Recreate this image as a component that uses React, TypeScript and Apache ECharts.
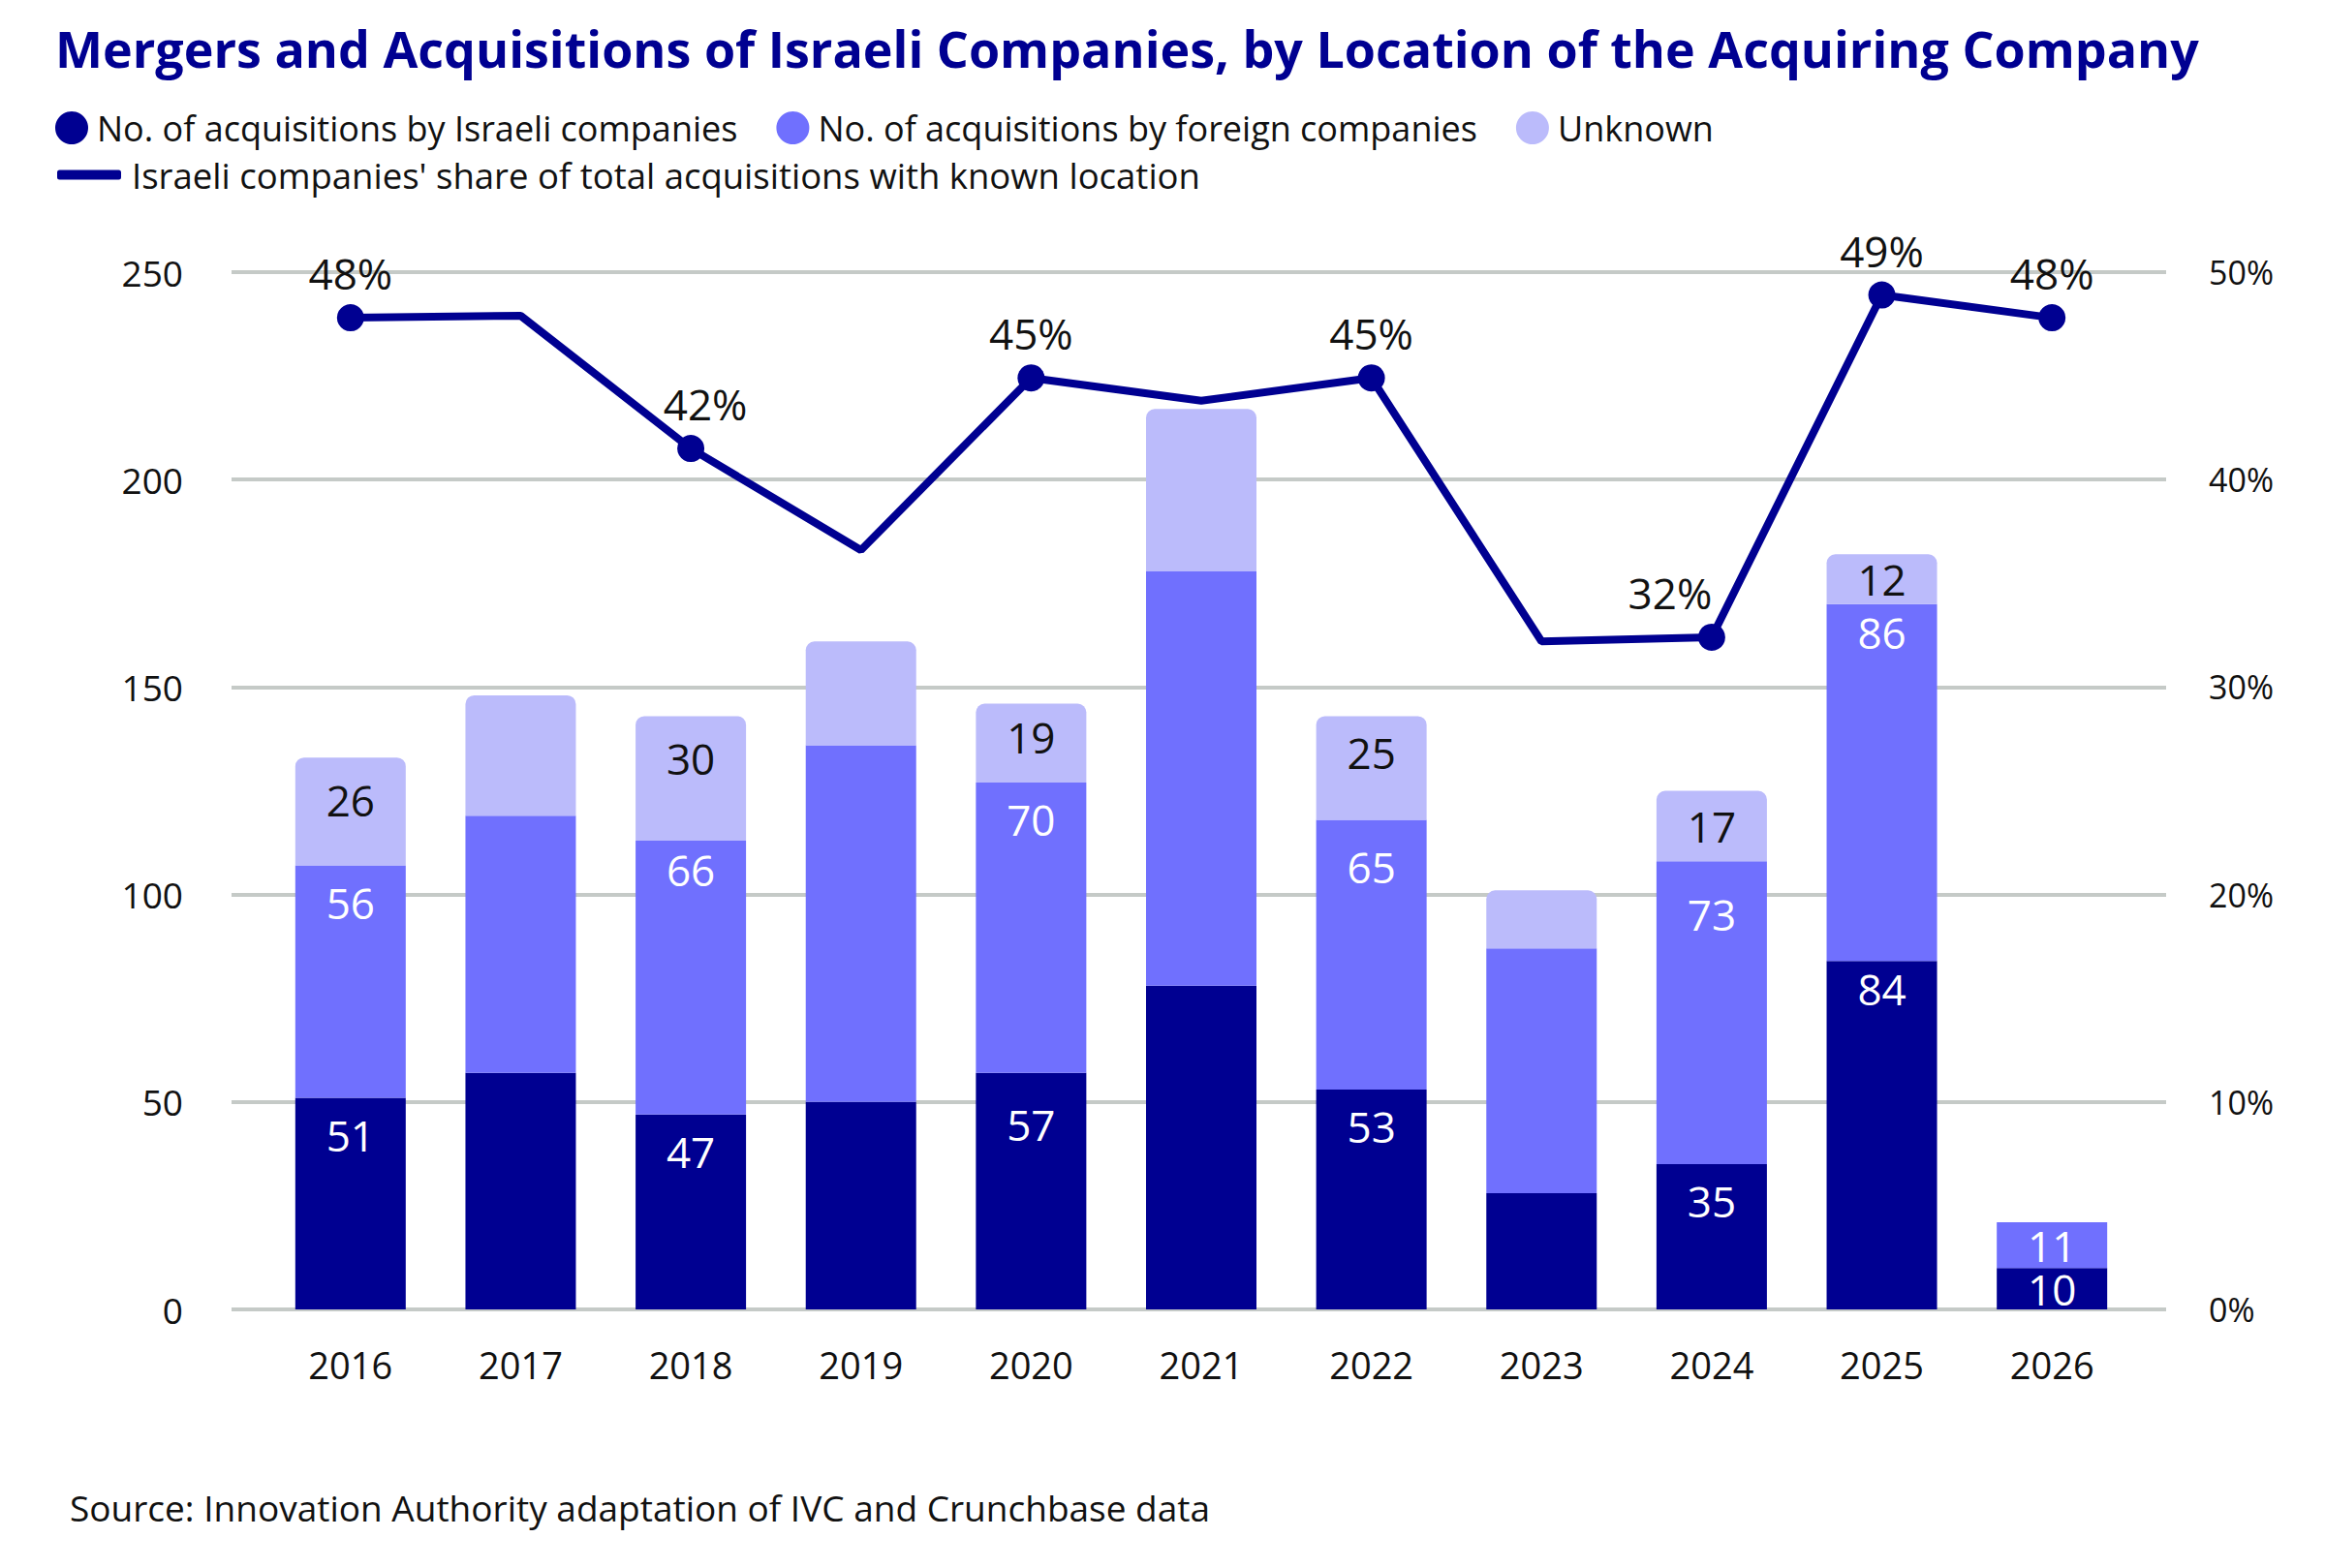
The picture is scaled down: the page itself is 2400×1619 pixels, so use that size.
import React, { useEffect, useRef } from "react";
import * as echarts from "echarts";

// Acquisitions of Israeli companies, split by where the buyer is based
const years = ["2016", "2017", "2018", "2019", "2020", "2021", "2022", "2023", "2024", "2025", "2026"];
const israeliBuyers = [51, 57, 47, 50, 57, 78, 53, 28, 35, 84, 10];
const foreignBuyers = [56, 62, 66, 86, 70, 100, 65, 59, 73, 86, 11];
const unknownBuyers = [26, 29, 30, 25, 19, 39, 25, 14, 17, 12, 0];
// Israeli buyers as a share (%) of acquisitions whose buyer location is known
const israeliShare = [47.8, 47.9, 41.5, 36.6, 44.9, 43.8, 44.9, 32.2, 32.4, 48.9, 47.8];
// Years whose values are written on the chart
const labelledYears = ["2016", "2018", "2020", "2022", "2024", "2025", "2026"];

const leftTicks = [0, 50, 100, 150, 200, 250];
const rightTicks = [0, 10, 20, 30, 40, 50];

const NAME_IL = "No. of acquisitions by Israeli companies";
const NAME_FOREIGN = "No. of acquisitions by foreign companies";
const NAME_UNKNOWN = "Unknown";
const NAME_SHARE = "Israeli companies' share of total acquisitions with known location";

const FONT = "'Open Sans', 'Noto Sans', sans-serif";
const NAVY = "#000091";
const VIOLET = "#7070fe";
const LAVENDER = "#bbbbfb";
const INK = "#111111";
const GRID = "#c5cac7";

// Label placement tweaks for the share line (pixels)
const shareLabelOffset: Record<string, [number, number]> = {
  "2018": [15, 0],
  "2024": [-43, 0],
};

// Vertical nudges (pixels) for individual bar labels
const israeliLabelShift: Record<string, number> = { "2020": 15 };
const foreignLabelShift: Record<string, number> = { "2018": -8, "2022": 11, "2024": 17, "2025": -9 };
const unknownLabelShift: Record<string, number> = { "2016": 6, "2018": 6, "2020": -6 };
const israeliLabelShift2025: Record<string, number> = { "2025": -9 };

function barData(values: number[], textColor: string, shift: Record<string, number>) {
  return values.map((v, i) => {
    const shown = labelledYears.includes(years[i]) && v > 0;
    return {
      value: v,
      label: {
        show: shown,
        position: v < 20 ? "inside" : "insideTop",
        distance: 16,
        color: textColor,
        offset: [0, shift[years[i]] || 0],
      },
    };
  });
}

export default function App() {
  const ref = useRef<HTMLDivElement>(null);

  useEffect(() => {
    if (!ref.current) return;
    const chart = echarts.init(ref.current, null, { renderer: "svg" });

    const barLabel = {
      fontSize: 44,
      fontFamily: FONT,
      lineHeight: 44,
    };

    const shareData = israeliShare.map((v, i) => {
      const shown = labelledYears.includes(years[i]);
      return {
        value: v,
        symbol: shown ? "circle" : "none",
        symbolSize: shown ? 28 : 0,
        label: {
          show: shown,
          offset: shareLabelOffset[years[i]] || [0, 0],
        },
      };
    });

    chart.setOption({
      animation: false,
      backgroundColor: "#ffffff",
      textStyle: { fontFamily: FONT },
      title: {
        text: "Mergers and Acquisitions of Israeli Companies, by Location of the Acquiring Company",
        left: 52,
        top: 18,
        textStyle: {
          fontFamily: FONT,
          fontSize: 52,
          fontWeight: "bold",
          color: NAVY,
        },
      },
      legend: [
        {
          data: [NAME_IL, NAME_FOREIGN, NAME_UNKNOWN],
          left: 52,
          top: 109,
          icon: "circle",
          itemWidth: 34,
          itemHeight: 34,
          itemGap: 40,
          selectedMode: false,
          textStyle: {
            fontFamily: FONT,
            fontSize: 36,
            color: INK,
            padding: [0, 0, 0, 4],
          },
        },
        {
          data: [NAME_SHARE],
          left: 54,
          top: 157,
          icon: "roundRect",
          itemWidth: 66,
          itemHeight: 10,
          selectedMode: false,
          textStyle: {
            fontFamily: FONT,
            fontSize: 36.5,
            color: INK,
            padding: [0, 0, 0, 6],
          },
        },
      ],
      graphic: [
        {
          type: "text",
          left: 72,
          top: 1538,
          style: {
            text: "Source: Innovation Authority adaptation of IVC and Crunchbase data",
            fontFamily: FONT,
            fontSize: 37,
            fill: INK,
          },
        },
      ],
      grid: [
        { left: 274, width: 1932, top: 281, height: 1071 },
        { left: 239, width: 1997, top: 281, height: 1071 },
      ],
      xAxis: [
        {
          gridIndex: 0,
          type: "category",
          data: years,
          axisLine: { show: false },
          axisTick: { show: false },
          axisLabel: {
            fontFamily: FONT,
            fontSize: 38,
            color: INK,
            margin: 38,
          },
        },
        { gridIndex: 1, type: "value", min: 0, max: 1, show: false },
      ],
      yAxis: [
        { gridIndex: 0, type: "value", min: leftTicks[0], max: leftTicks[leftTicks.length - 1], interval: 50, show: false },
        { gridIndex: 0, type: "value", min: rightTicks[0], max: rightTicks[rightTicks.length - 1], interval: 10, show: false, position: "right" },
        {
          gridIndex: 1,
          type: "value",
          min: leftTicks[0],
          max: leftTicks[leftTicks.length - 1],
          interval: 50,
          axisLine: { show: false },
          axisTick: { show: false },
          axisLabel: {
            fontFamily: FONT,
            fontSize: 37,
            color: INK,
            margin: 50,
            padding: [0, 0, 16, 0],
          },
          splitLine: { show: true, lineStyle: { color: GRID, width: 4 } },
        },
        {
          gridIndex: 1,
          type: "value",
          position: "right",
          min: rightTicks[0],
          max: rightTicks[rightTicks.length - 1],
          interval: 10,
          axisLine: { show: false },
          axisTick: { show: false },
          splitLine: { show: false },
          axisLabel: {
            fontFamily: FONT,
            fontSize: 34,
            color: INK,
            margin: 44,
            padding: [0, 0, 16, 0],
            formatter: "{value}%",
          },
        },
      ],
      series: [
        {
          name: NAME_IL,
          type: "bar",
          stack: "deals",
          xAxisIndex: 0,
          yAxisIndex: 0,
          barWidth: 114,
          itemStyle: { color: NAVY },
          label: { ...barLabel },
          data: barData(israeliBuyers, "#ffffff", { ...israeliLabelShift, ...israeliLabelShift2025 }),
        },
        {
          name: NAME_FOREIGN,
          type: "bar",
          stack: "deals",
          xAxisIndex: 0,
          yAxisIndex: 0,
          barWidth: 114,
          itemStyle: { color: VIOLET },
          label: { ...barLabel },
          data: barData(foreignBuyers, "#ffffff", foreignLabelShift),
        },
        {
          name: NAME_UNKNOWN,
          type: "bar",
          stack: "deals",
          xAxisIndex: 0,
          yAxisIndex: 0,
          barWidth: 114,
          itemStyle: { color: LAVENDER, borderRadius: [9, 9, 0, 0] },
          label: { ...barLabel },
          data: barData(unknownBuyers, INK, unknownLabelShift),
        },
        {
          name: NAME_SHARE,
          type: "line",
          xAxisIndex: 0,
          yAxisIndex: 1,
          z: 5,
          lineStyle: { color: NAVY, width: 8 },
          itemStyle: { color: NAVY },
          label: {
            position: "top",
            distance: 10,
            fontFamily: FONT,
            fontSize: 44,
            color: INK,
            formatter: (p: any) => Math.round(p.value) + "%",
          },
          data: shareData,
        },
      ],
    });

    return () => chart.dispose();
  }, []);

  return (
    <div
      ref={ref}
      style={{ position: "fixed", left: 0, top: 0, width: 2400, height: 1619, background: "#fff" }}
    />
  );
}
